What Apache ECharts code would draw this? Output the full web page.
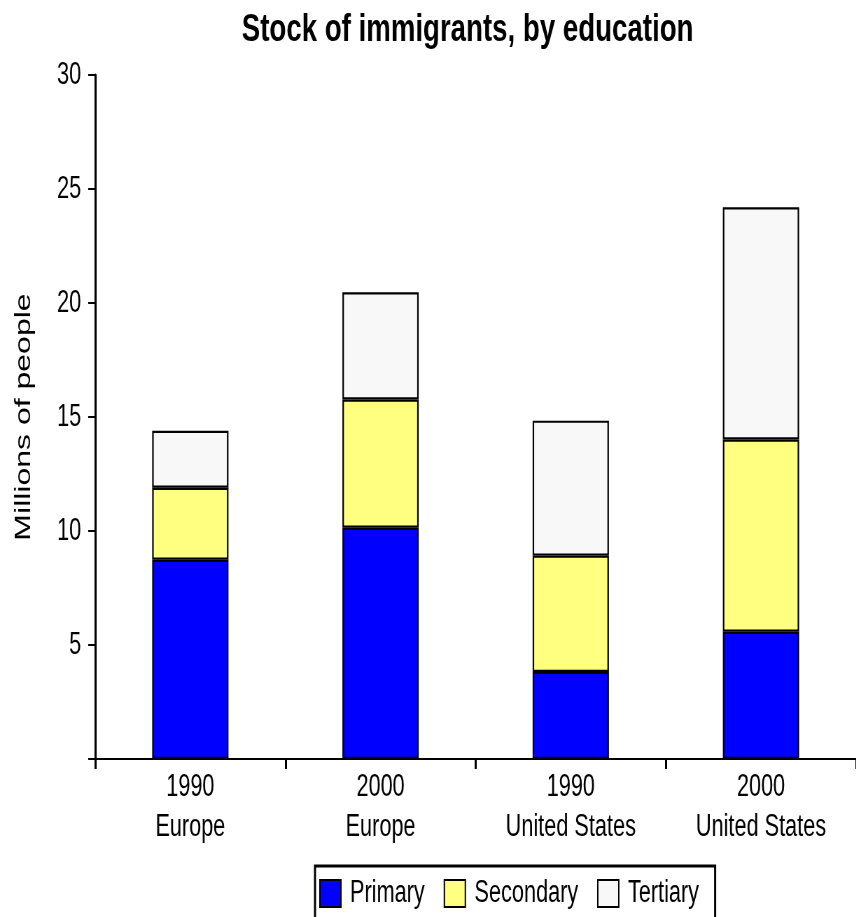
<!DOCTYPE html>
<html>
<head>
<meta charset="utf-8">
<style>
  html, body { margin: 0; padding: 0; background: #fff; overflow: hidden; }
  #frame { width: 856px; height: 917px; overflow: hidden; position: relative; }
  /* The chart is laid out on a wider canvas and condensed horizontally,
     which gives the tall, narrow lettering of this figure. */
  #chart { width: 1223px; height: 917px; transform: scaleX(0.7); transform-origin: 0 0; }
</style>
<script src="https://cdn.jsdelivr.net/npm/echarts@6/dist/echarts.min.js"></script>
</head>
<body>
<div id="frame"><div id="chart"></div></div>
<script>
// Stock of immigrants by education level (millions of people)
const categories = ['1990\nEurope', '2000\nEurope', '1990\nUnited States', '2000\nUnited States'];
const primary = [8.74, 10.14, 3.82, 5.58];
const secondary = [3.16, 5.63, 5.10, 8.43];
const tertiary = [2.50, 4.70, 5.92, 10.19];
const seriesNames = ['Primary', 'Secondary', 'Tertiary'];
const seriesColors = ['#0000ff', '#ffff80', '#f8f8f8'];
const yTicks = { min: 0, max: 30, interval: 5 };

const FONT = '"Liberation Sans", Arial, Helvetica, sans-serif';

const chart = echarts.init(document.getElementById('chart'), null, { renderer: 'canvas' });

const makeSeries = (name, data, color) => ({
  name: name,
  type: 'bar',
  stack: 'total',
  data: data,
  barWidth: 109,
  itemStyle: { color: color, borderColor: '#000', borderWidth: 2.2 },
  emphasis: { disabled: true }
});

chart.setOption({
  animation: false,
  backgroundColor: '#fff',
  title: {
    text: 'Stock of immigrants, by education',
    left: 663,
    textAlign: 'center',
    top: 5,
    textStyle: { fontFamily: FONT, fontWeight: 'bold', fontSize: 39.5, color: '#000' }
  },
  legend: {
    data: seriesNames,
    icon: 'rect',
    left: 450,
    top: 866,
    padding: [12, 23, 20, 6],
    itemWidth: 30,
    itemHeight: 27,
    itemGap: 27,
    borderColor: '#000',
    borderWidth: 3,
    backgroundColor: '#fff',
    itemStyle: { borderColor: '#000', borderWidth: 2 },
    textStyle: { fontFamily: FONT, fontSize: 31, color: '#000', padding: [0, 0, 0, 8] }
  },
  grid: { left: 136, top: 75, right: -6, bottom: 158, containLabel: false },
  xAxis: {
    type: 'category',
    data: categories,
    axisLine: { lineStyle: { color: '#000', width: 2 } },
    axisTick: { show: true, interval: 0, length: 10, lineStyle: { color: '#000', width: 3 } },
    axisLabel: {
      interval: 0, fontFamily: FONT, fontSize: 31, color: '#000', lineHeight: 40, margin: 8
    }
  },
  yAxis: {
    type: 'value',
    min: yTicks.min,
    max: yTicks.max,
    interval: yTicks.interval,
    name: 'Millions of people',
    nameLocation: 'middle',
    nameGap: 86,
    nameTextStyle: { fontFamily: FONT, fontSize: 32, color: '#000' },
    splitLine: { show: false },
    axisLine: { show: true, lineStyle: { color: '#000', width: 3 } },
    axisTick: { show: true, length: 10, lineStyle: { color: '#000', width: 2 } },
    axisLabel: {
      fontFamily: FONT, fontSize: 31, color: '#000', margin: 20,
      formatter: v => (v === 0 ? '' : String(v))
    }
  },
  series: [
    makeSeries(seriesNames[0], primary, seriesColors[0]),
    makeSeries(seriesNames[1], secondary, seriesColors[1]),
    makeSeries(seriesNames[2], tertiary, seriesColors[2])
  ]
});
</script>
</body>
</html>
